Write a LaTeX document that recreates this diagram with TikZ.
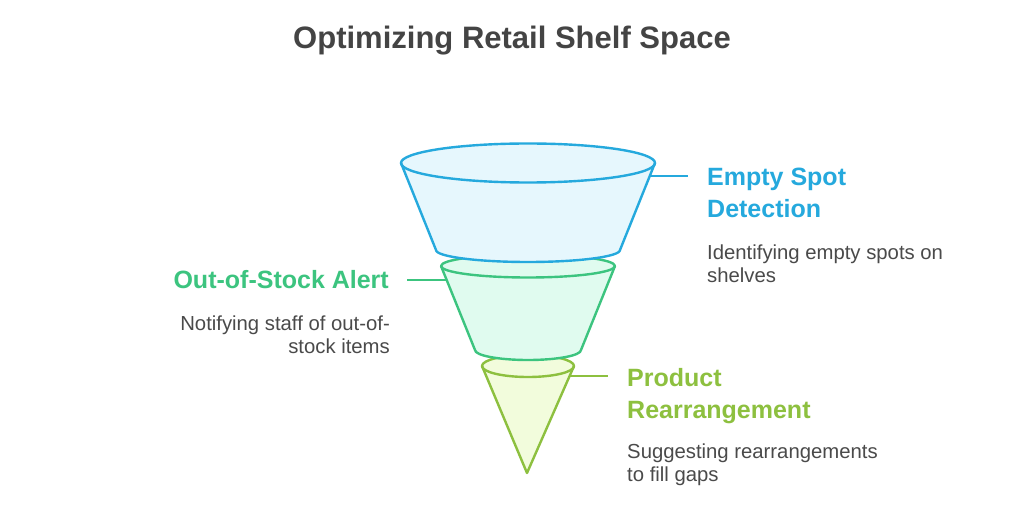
\documentclass[tikz,border=0pt]{standalone}
\usepackage{fontspec}
\setmainfont{Liberation Sans}
\definecolor{cblue}{HTML}{25A9DD}
\definecolor{fblue}{HTML}{E6F7FD}
\definecolor{cgreen}{HTML}{3CC47F}
\definecolor{fgreen}{HTML}{E0FBEF}
\definecolor{colive}{HTML}{8DC03F}
\definecolor{folive}{HTML}{F2FCDC}
\definecolor{ctext}{HTML}{4A4A4A}
\definecolor{ctitle}{HTML}{444444}
\tikzset{
  seg/.style={line width=2.4pt, line join=round},
  lead/.style={line width=2pt},
  head/.style={font=\fontsize{25}{32}\selectfont\bfseries, align=left, inner sep=0pt},
  desc/.style={font=\fontsize{20.3}{23}\selectfont, text=ctext, align=left, inner sep=0pt},
}
\begin{document}
\begin{tikzpicture}[x=1pt,y=1pt]
\useasboundingbox (0,0) rectangle (1024,528);
\fill[white] (0,0) rectangle (1024,528);
% segment 3
\fill[folive] (482,162) -- (527,55) -- (574,162) arc[start angle=0,end angle=180,x radius=46,y radius=11] -- cycle;
\draw[seg,colive] (482,162) -- (527,55) -- (574,162);
\draw[seg,colive] (528,162) ellipse[x radius=46,y radius=11];
% segment 2
\fill[fgreen] (441,262) -- (475,178) arc[start angle=180,end angle=360,x radius=53,y radius=10] -- (615,262) arc[start angle=0,end angle=180,x radius=87,y radius=11.5] -- cycle;
\draw[seg,cgreen] (441,262) -- (475,178) arc[start angle=180,end angle=360,x radius=53,y radius=10] -- (615,262);
\draw[seg,cgreen] (528,262) ellipse[x radius=87,y radius=11.5];
% segment 1
\fill[fblue] (401,365) -- (436,278) arc[start angle=180,end angle=360,x radius=92,y radius=12] -- (655,365) arc[start angle=0,end angle=180,x radius=127,y radius=19.5] -- cycle;
\draw[seg,cblue] (401,365) -- (436,278) arc[start angle=180,end angle=360,x radius=92,y radius=12] -- (655,365);
\draw[seg,cblue] (528,365) ellipse[x radius=127,y radius=19.5];
% leader coordinates
\coordinate (b1) at (651,352); \coordinate (b2) at (688,352);
\coordinate (g1) at (407,248); \coordinate (g2) at (447,248);
\coordinate (o1) at (569,152); \coordinate (o2) at (608,152);
\draw[lead,cblue] (b1) -- (b2);
\draw[lead,cgreen] (g1) -- (g2);
\draw[lead,colive] (o1) -- (o2);
% title
\node[anchor=base, inner sep=0pt, text=ctitle, font=\fontsize{31}{34}\selectfont\bfseries] (title) at (512,479) {Optimizing Retail Shelf Space};
% labels
\node[head, text=cblue, anchor=base west] (h1) at (707,310) {Empty Spot\\Detection};
\node[desc, anchor=base west] (d1) at (707,246) {Identifying empty spots on\\shelves};
\node[head, text=cgreen, anchor=base east] (h2) at (389,240) {Out-of-Stock Alert};
\node[desc, anchor=base east, align=right] (d2) at (390,175) {Notifying staff of out-of-\\stock items};
\node[head, text=colive, anchor=base west] (h3) at (627,110) {Product\\Rearrangement};
\node[desc, anchor=base west] (d3) at (627,47) {Suggesting rearrangements\\to fill gaps};
\end{tikzpicture}
\end{document}
